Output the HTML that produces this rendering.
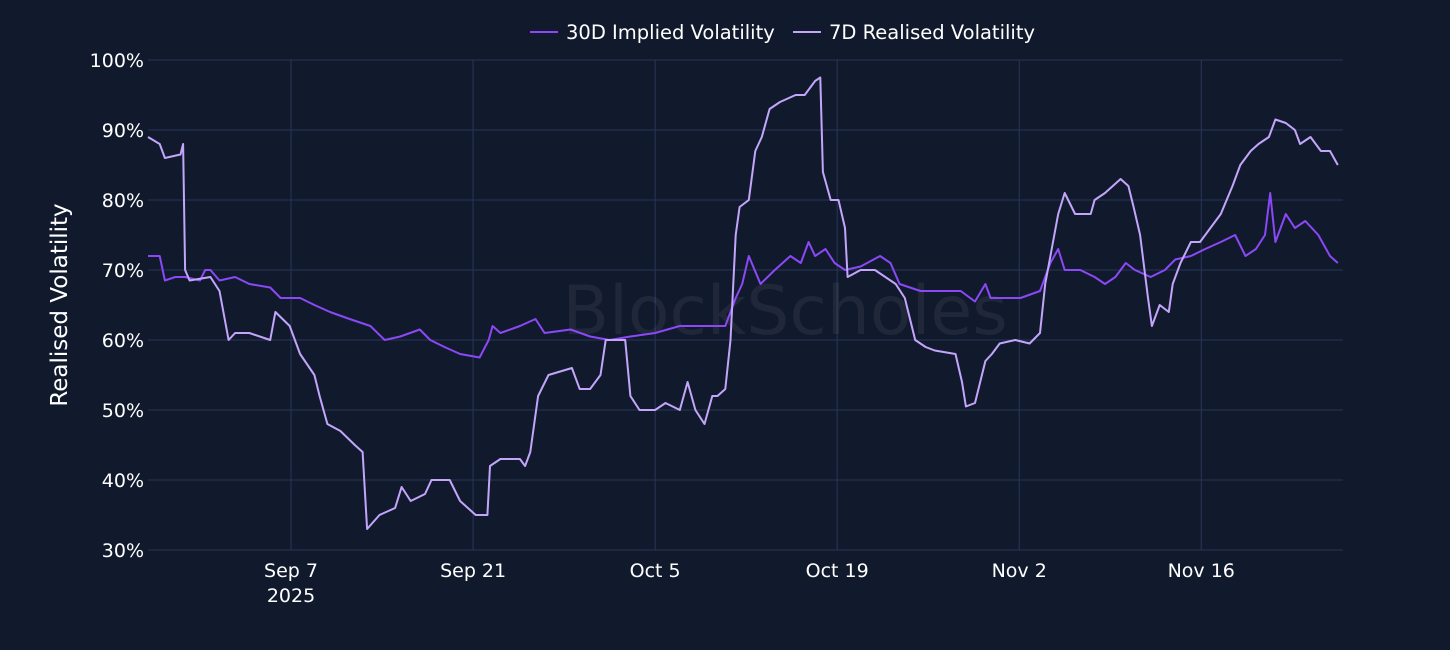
<!DOCTYPE html>
<html><head><meta charset="utf-8"><style>
html,body{margin:0;padding:0;background:#111a2d;}
svg{display:block;font-family:"DejaVu Sans","Liberation Sans",sans-serif;}
</style></head><body>
<svg id="chart" width="1450" height="650" xmlns="http://www.w3.org/2000/svg">
<rect width="1450" height="650" fill="#111a2d"/>
<g id="grid"></g>
<text x="785" y="334" text-anchor="middle" font-size="68" fill="#ffffff" fill-opacity="0.06">BlockScholes</text>
<g id="series"></g>
<g id="axes"></g>
<text transform="translate(67,305) rotate(-90)" text-anchor="middle" font-size="23" fill="#ffffff">Realised Volatility</text>
<g>
 <g>
  <line x1="530" y1="32" x2="558" y2="32" stroke="#8b48f6" stroke-width="2"/>
  <text x="566" y="39" font-size="19.5" fill="#ffffff">30D Implied Volatility</text>
 </g>
 <g>
  <line x1="793" y1="32" x2="821" y2="32" stroke="#c3a6fb" stroke-width="2"/>
  <text x="829" y="39" font-size="19.5" fill="#ffffff">7D Realised Volatility</text>
 </g>
</g>
</svg>
<script>
const yTicks=[30,40,50,60,70,80,90,100];
const xTickDays=[11,25,39,53,67,81];
const xTickLabels=["Sep 7","Sep 21","Oct 5","Oct 19","Nov 2","Nov 16"];
const realDays=[0,0.9,1.3,2.5,2.7,2.85,3.2,4.8,5.5,6.2,6.7,7.8,9.4,9.8,10.9,11.7,12.8,13.2,13.8,14.8,15.9,16.5,16.85,17.8,19,19.5,20.2,21.3,21.8,23.2,24,25.2,26.1,26.3,27.1,28.6,29,29.4,30,30.8,32.6,33.2,34,34.8,35.2,36.7,37.1,37.8,39,39.8,40.9,41.5,42.1,42.8,43.4,43.8,44.4,44.8,45.2,45.5,46.2,46.7,47.2,47.8,48.6,49.8,50.5,51.3,51.7,51.9,52.5,53.1,53.6,53.8,54.8,55.9,56.7,57.5,58.2,59,59.8,60.5,62.1,62.6,62.9,63.6,64.4,64.9,65.5,66.7,67.8,68.6,69,69.4,70,70.5,71.3,72.5,72.8,73.6,74.8,75.4,75.8,76.3,76.9,77.2,77.8,78.5,78.8,79.4,80.2,80.9,81.7,82.5,83.4,84,84.8,85.4,86.2,86.7,87.5,88.2,88.6,89.4,90.2,90.9,91.5];
const realVals=[89,88,86,86.5,88,70,68.5,69,67,60,61,61,60,64,62,58,55,52,48,47,45,44,33,35,36,39,37,38,40,40,37,35,35,42,43,43,42,44,52,55,56,53,53,55,60,60,52,50,50,51,50,54,50,48,52,52,53,60,75,79,80,87,89,93,94,95,95,97,97.5,84,80,80,76,69,70,70,69,68,66,60,59,58.5,58,54,50.5,51,57,58,59.5,60,59.5,61,68,72,78,81,78,78,80,81,83,82,79,75,66,62,65,64,68,71,74,74,76,78,82,85,87,88,89,91.5,91,90,88,89,87,87,85];
const implDays=[0,0.9,1.3,2.1,2.85,4,4.4,4.8,5.5,6.7,7.8,9.4,10.2,11.7,12.8,14,15.5,17.1,18.2,19.4,20.9,21.7,22.8,24,25.5,26.2,26.5,27.1,28.6,29.8,30.5,32.5,34,35.5,37.1,39,40.9,42.5,44.4,45.2,45.7,46.2,47.1,48.2,49.4,50.2,50.8,51.3,52.1,52.8,53.6,54.8,56.3,57.1,57.8,59.4,60.9,62.5,63.6,64.4,64.8,65.5,67.1,68.6,69.4,70,70.5,71.7,72.8,73.6,74.4,75.2,75.9,77.1,78.2,79,80.2,81.3,82.5,83.6,84.4,85.2,85.9,86.3,86.7,87.5,88.2,89,90,90.9,91.5];
const implVals=[72,72,68.5,69,69,68.5,70,70,68.5,69,68,67.5,66,66,65,64,63,62,60,60.5,61.5,60,59,58,57.5,60,62,61,62,63,61,61.5,60.5,60,60.5,61,62,62,62,66,68,72,68,70,72,71,74,72,73,71,70,70.5,72,71,68,67,67,67,65.5,68,66,66,66,67,71,73,70,70,69,68,69,71,70,69,70,71.5,72,73,74,75,72,73,75,81,74,78,76,77,75,72,71];

const L=148,R=1343,T=60,B=550,DAYS=91.9;
const xs=d=>L+(R-L)*d/DAYS;
const ys=v=>B-(B-T)*(v-30)/70;
const NS="http://www.w3.org/2000/svg";
function mk(tag,attrs,parent){const e=document.createElementNS(NS,tag);for(const k in attrs)e.setAttribute(k,attrs[k]);parent.appendChild(e);return e;}
const grid=document.getElementById('grid'),axes=document.getElementById('axes'),series=document.getElementById('series');
yTicks.forEach(v=>{
 const l=mk('line',{x1:L,x2:R,y1:ys(v),y2:ys(v),stroke:'#283657','stroke-width':1},grid);
 
 
 const t=mk('text',{x:L-4,y:ys(v)+7,'text-anchor':'end','font-size':19,fill:'#fff'},axes);
 t.textContent=v+'%';
 
 
});
xTickDays.forEach((d,i)=>{
 const l=mk('line',{x1:xs(d),x2:xs(d),y1:T,y2:B,stroke:'#283657','stroke-width':1},grid);
 
 
 const t=mk('text',{x:xs(d),y:577,'text-anchor':'middle','font-size':19,fill:'#fff'},axes);
 t.textContent=xTickLabels[i];
 
 
});
const yr=mk('text',{x:xs(xTickDays[0]),y:602,'text-anchor':'middle','font-size':19,fill:'#fff'},axes);
yr.textContent='2025';


function line(days,vals,color,name){
 const d=days.map((x,i)=>(i?'L':'M')+xs(x).toFixed(1)+','+ys(vals[i]).toFixed(1)).join('');
 const p=mk('path',{d:d,fill:'none',stroke:color,'stroke-width':2,'stroke-linejoin':'round'},series);
 
 
}
line(implDays,implVals,'#8b48f6','implied-volatility-line');
line(realDays,realVals,'#c3a6fb','realised-volatility-line');
</script>
</body></html>
